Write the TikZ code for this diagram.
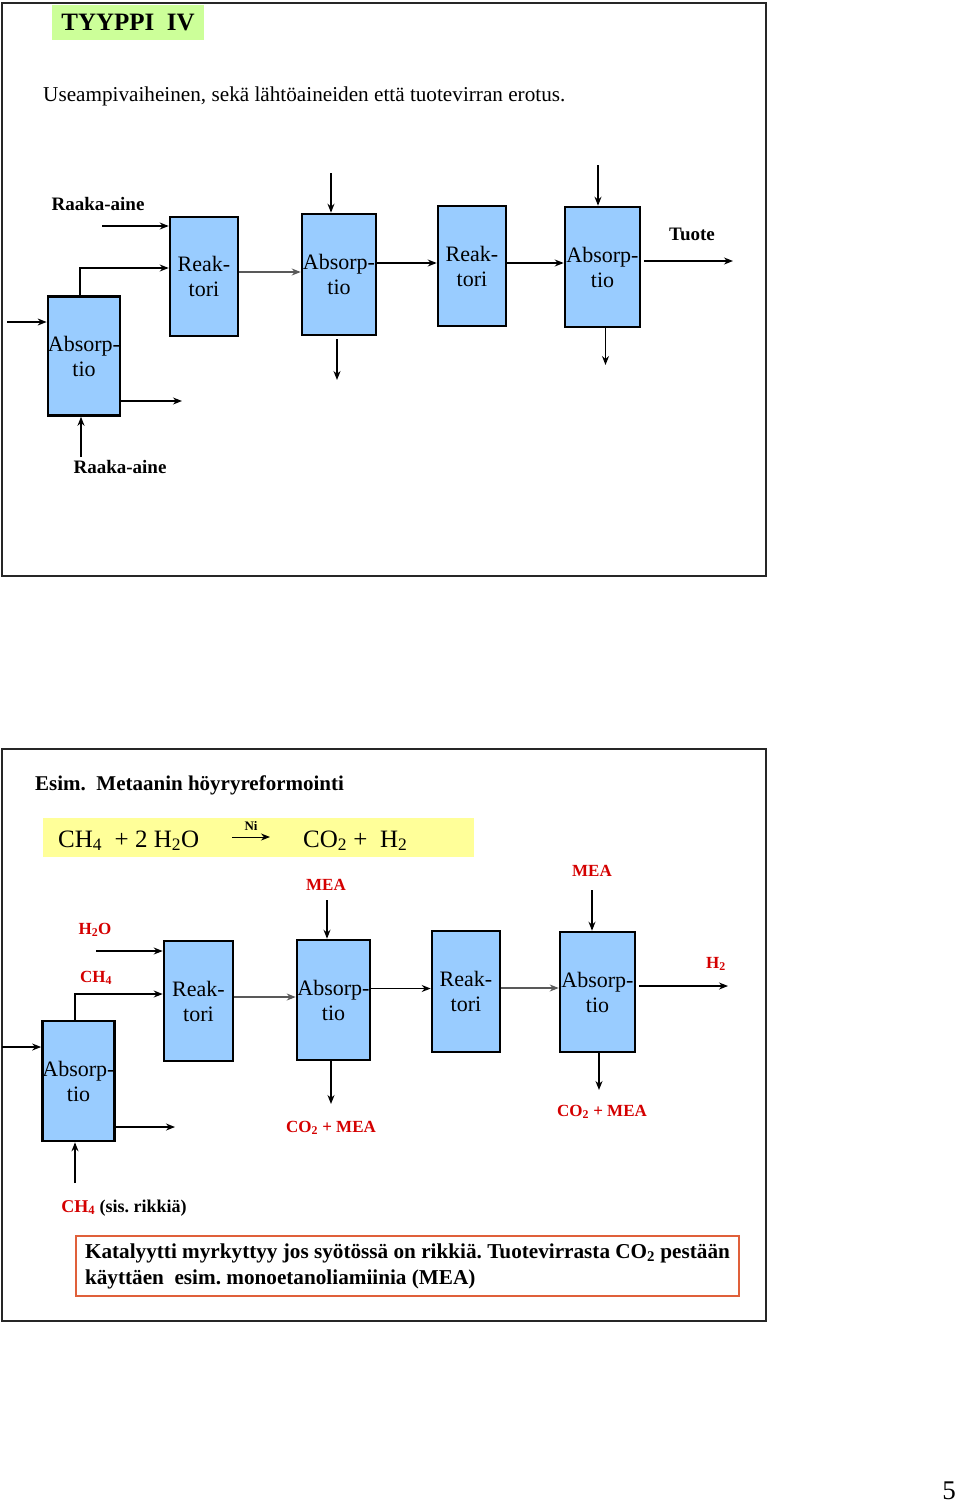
\documentclass[tikz,border=0pt]{standalone}
\usepackage{fontspec}
\setmainfont{Liberation Serif}
\usetikzlibrary{calc,arrows.meta}
\definecolor{boxblue}{HTML}{99CCFF}
\definecolor{titlegreen}{HTML}{CCFF99}
\definecolor{eqyellow}{HTML}{FFFF99}
\definecolor{chemred}{HTML}{D40000}
\definecolor{noteorange}{HTML}{E0603A}
\tikzset{
  unitbox/.style={draw, line width=2.6pt, fill=boxblue, align=center, inner sep=0pt,
    font=\fontsize{22}{25}\selectfont},
  frame/.style={draw=black!85, line width=2.6pt},
  flow/.style={->, line width=1.3pt},
  feed/.style={->, line width=1.1pt, gray!70!black},
  lbl/.style={font=\fontsize{19}{22}\selectfont\bfseries},
  redlbl/.style={font=\fontsize{17}{20}\selectfont\bfseries, text=chemred}
}
\begin{document}
\frenchspacing
\begin{tikzpicture}[x=1pt,y=-1pt,>={Stealth[length=9pt,width=7pt]}]
\useasboundingbox (0,0) rectangle (960,1507);

% ---- upper slide ----
\draw[frame] (2,3) rectangle (766,576);
\node[fill=titlegreen, minimum width=152pt, minimum height=35pt, inner sep=0pt,
  font=\fontsize{25}{28}\selectfont\bfseries] (title) at (128,22.5) {TYYPPI~~IV};
\node[anchor=base west, inner sep=0pt, font=\fontsize{21.2}{24}\selectfont] (intro) at (43,101)
  {Useampivaiheinen, sekä lähtöaineiden että tuotevirran erotus.};

\node[unitbox, minimum width=68pt, minimum height=119pt] (a1) at (84,356) {Absorp-\\tio};
\node[unitbox, minimum width=68pt, minimum height=119pt] (r1) at (204,276.5) {Reak-\\tori};
\node[unitbox, minimum width=74pt, minimum height=121pt] (a2) at (339,274.5) {Absorp-\\tio};
\node[unitbox, minimum width=68pt, minimum height=120pt] (r2) at (472,266) {Reak-\\tori};
\node[unitbox, minimum width=75pt, minimum height=120pt] (a3) at (602.5,267) {Absorp-\\tio};

\node[lbl] (raw1) at (98,204) {Raaka-aine};
\node[lbl] (raw2) at (120,467) {Raaka-aine};
\node[lbl] (tuote) at (692,234) {Tuote};

\coordinate (in1) at (102,226);
\coordinate (k1) at (80,268);
\coordinate (in2) at (7,322);
\coordinate (out1) at (182,401);
\coordinate (in3) at (81,457);
\coordinate (top2) at (331,173);
\coordinate (bot2) at (337,380);
\coordinate (top3) at (598,165);
\coordinate (bot3) at (605.5,365);
\coordinate (prod) at (733,261);

\draw[flow] (in1) -- (in1 -| r1.west);
\draw[flow] (k1 |- a1.north) -- (k1) -- (k1 -| r1.west);
\draw[flow] (in2) -- (in2 -| a1.west);
\draw[flow] (out1 -| a1.east) -- (out1);
\draw[flow] (in3) -- (in3 |- a1.south);
\draw[feed] ([yshift=4.5pt]r1.east) -- ([yshift=4.5pt]r1.east -| a2.west);
\draw[flow] (top2) -- (top2 |- a2.north);
\draw[flow] ([yshift=-3pt]bot2 |- a2.south) -- (bot2);
\draw[flow] ([yshift=3pt]r2.west -| a2.east) -- ([yshift=3pt]r2.west);
\draw[flow] ([yshift=3pt]r2.east) -- ([yshift=3pt]r2.east -| a3.west);
\draw[flow] (top3) -- (top3 |- a3.north);
\draw[flow] (bot3 |- a3.south) -- (bot3);
\draw[flow] ([xshift=3pt]prod -| a3.east) -- (prod);

% ---- lower slide ----
\draw[frame] (2,749) rectangle (766,1321);
\node[anchor=west, inner sep=0pt, font=\fontsize{21}{24}\selectfont\bfseries] (esim) at (35,785)
  {Esim.~~Metaanin höyryreformointi};
\node[fill=eqyellow, minimum width=431pt, minimum height=39pt, inner sep=0pt] (eqbox) at (258.5,837.5) {};
\node[anchor=base west, inner sep=0pt, font=\fontsize{25}{28}\selectfont] (eqin) at (58,847)
  {CH\textsubscript{4}~~+ 2 H\textsubscript{2}O};
\node[anchor=base west, inner sep=0pt, font=\fontsize{25}{28}\selectfont] (eqout) at (303,847)
  {CO\textsubscript{2} +~~H\textsubscript{2}};
\coordinate (ni1) at (232,837);
\coordinate (ni2) at (270,837);
\draw[->, line width=1pt] (ni1) -- (ni2)
  node[midway, above=6pt, inner sep=0pt, font=\fontsize{13}{15}\selectfont\bfseries] (cat) {Ni};

\node[unitbox, minimum width=69pt, minimum height=120pt] (b1) at (78.5,1081) {Absorp-\\tio};
\node[unitbox, minimum width=69pt, minimum height=120pt] (s1) at (198.5,1001) {Reak-\\tori};
\node[unitbox, minimum width=73pt, minimum height=120pt] (b2) at (333.5,1000) {Absorp-\\tio};
\node[unitbox, minimum width=68pt, minimum height=121pt] (s2) at (466,991.5) {Reak-\\tori};
\node[unitbox, minimum width=75pt, minimum height=120pt] (b3) at (597.5,992) {Absorp-\\tio};

\node[redlbl] (water) at (95,930) {H\textsubscript{2}O};
\node[redlbl] (methane) at (96,978) {CH\textsubscript{4}};
\node[redlbl] (mea1) at (326,885) {MEA};
\node[redlbl] (mea2) at (592,871) {MEA};
\node[redlbl] (hydro) at (716,964) {H\textsubscript{2}};
\node[redlbl] (spent1) at (331,1128) {CO\textsubscript{2} + MEA};
\node[redlbl] (spent2) at (602,1112) {CO\textsubscript{2} + MEA};
\node[font=\fontsize{18}{21}\selectfont\bfseries] (sour) at (124,1208)
  {\textcolor{chemred}{CH\textsubscript{4}} (sis. rikkiä)};

\coordinate (w1) at (96,951);
\coordinate (k2) at (75,994);
\coordinate (w2) at (2,1047);
\coordinate (o2) at (175,1127);
\coordinate (w3) at (75,1183);
\coordinate (t2) at (327,900);
\coordinate (d2) at (331,1104);
\coordinate (t3) at (592,890);
\coordinate (d3) at (599,1090);
\coordinate (h2) at (728,986);

\draw[flow] (w1) -- (w1 -| s1.west);
\draw[flow] (k2 |- b1.north) -- (k2) -- (k2 -| s1.west);
\draw[flow] (w2) -- (w2 -| b1.west);
\draw[flow] (o2 -| b1.east) -- (o2);
\draw[flow] (w3) -- (w3 |- b1.south);
\draw[feed] ([yshift=4pt]s1.east) -- ([yshift=4pt]s1.east -| b2.west);
\draw[flow] (t2) -- (t2 |- b2.north);
\draw[flow] (d2 |- b2.south) -- (d2);
\draw[flow] ([yshift=3pt]s2.west -| b2.east) -- ([yshift=3pt]s2.west);
\draw[feed] ([yshift=3.5pt]s2.east) -- ([yshift=3.5pt]s2.east -| b3.west);
\draw[flow] (t3) -- (t3 |- b3.north);
\draw[flow] (d3 |- b3.south) -- (d3);
\draw[flow] ([xshift=3pt]h2 -| b3.east) -- (h2);

\node[draw=noteorange, line width=1.4pt, minimum width=663pt, minimum height=60pt,
  align=left, inner sep=0pt, font=\fontsize{21.2}{26}\selectfont\bfseries] (note) at (407.5,1266)
  {Katalyytti myrkyttyy jos syötössä on rikkiä. Tuotevirrasta CO\textsubscript{2} pestään\\
   käyttäen~ esim. monoetanoliamiinia (MEA)};

\node[anchor=base east, inner sep=0pt, font=\fontsize{27}{29}\selectfont] (page) at (956,1499) {5};
\end{tikzpicture}
\end{document}
